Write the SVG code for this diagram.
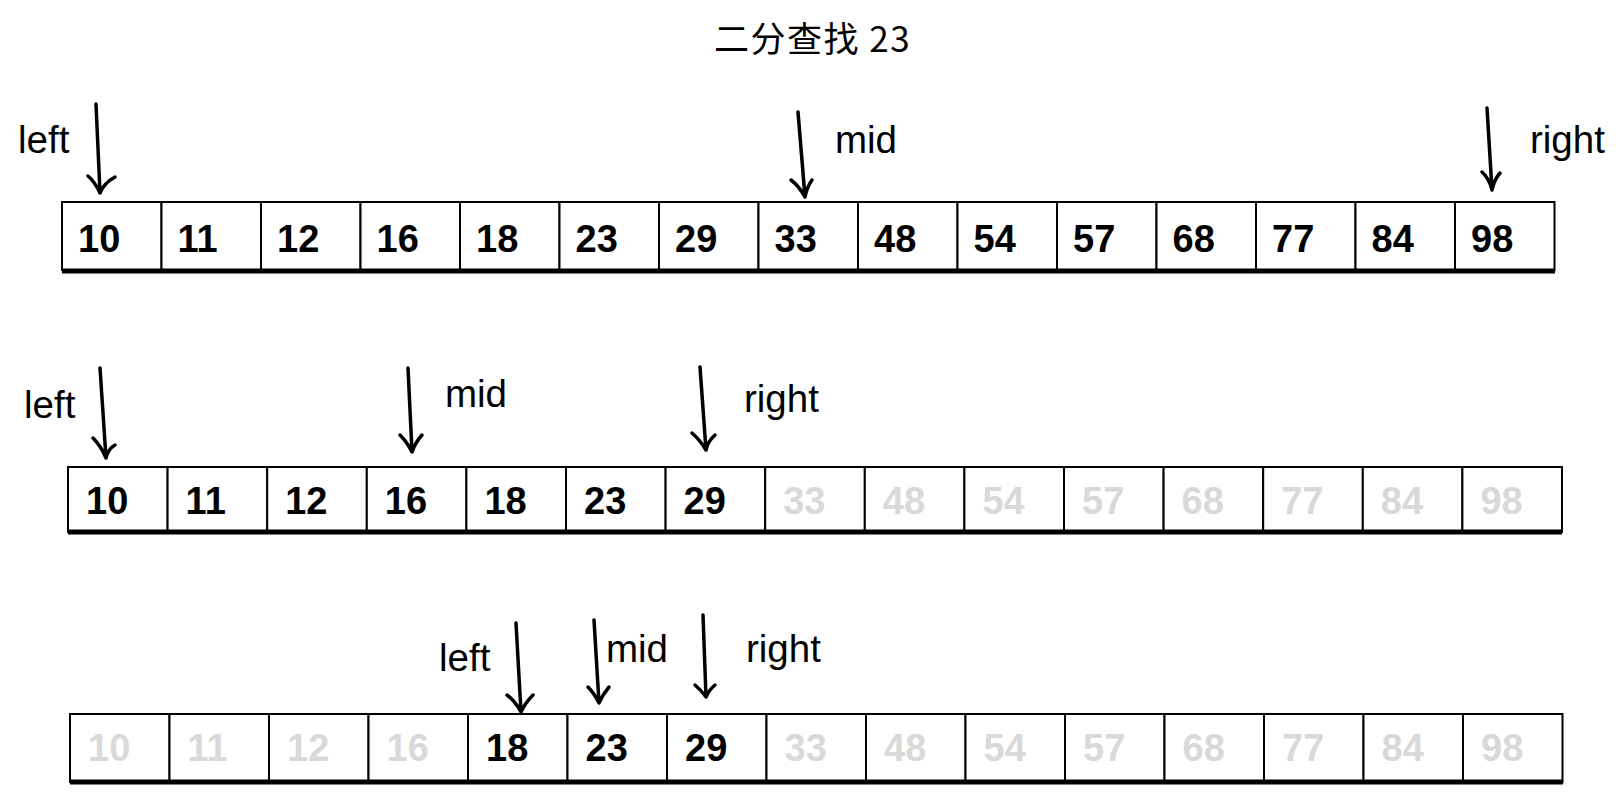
<svg xmlns="http://www.w3.org/2000/svg" width="1620" height="798" viewBox="0 0 1620 798">
<style>
.cell{fill:#fff;stroke:#000;stroke-width:2}
.base{stroke:#000;stroke-width:5}
.num{font-family:"Liberation Sans",Arial,sans-serif;font-weight:bold;font-size:38px;fill:#000}
.dim{fill:#d9d9d9}
.lbl{font-family:"Liberation Sans",Arial,sans-serif;font-size:38.5px;fill:#000}
.ttl{font-family:"Noto Sans CJK SC",sans-serif;font-size:35px;letter-spacing:1.5px;fill:#000}
.arr{fill:none;stroke:#000;stroke-width:3.5;stroke-linecap:round;stroke-linejoin:round}
</style>
<rect width="1620" height="798" fill="#fff"/>
<g id="title"><text class="ttl" x="714" y="52">二分查找 23</text></g>

<!-- Row 1 -->
<g id="row1">
<g id="r1c0"><rect class="cell" x="62" y="202" width="99.5" height="68"/><text class="num" x="78" y="252">10</text></g>
<g id="r1c1"><rect class="cell" x="161.5" y="202" width="99.5" height="68"/><text class="num" x="177.5" y="252">11</text></g>
<g id="r1c2"><rect class="cell" x="261" y="202" width="99.5" height="68"/><text class="num" x="277" y="252">12</text></g>
<g id="r1c3"><rect class="cell" x="360.5" y="202" width="99.5" height="68"/><text class="num" x="376.5" y="252">16</text></g>
<g id="r1c4"><rect class="cell" x="460" y="202" width="99.5" height="68"/><text class="num" x="476" y="252">18</text></g>
<g id="r1c5"><rect class="cell" x="559.5" y="202" width="99.5" height="68"/><text class="num" x="575.5" y="252">23</text></g>
<g id="r1c6"><rect class="cell" x="659" y="202" width="99.5" height="68"/><text class="num" x="675" y="252">29</text></g>
<g id="r1c7"><rect class="cell" x="758.5" y="202" width="99.5" height="68"/><text class="num" x="774.5" y="252">33</text></g>
<g id="r1c8"><rect class="cell" x="858" y="202" width="99.5" height="68"/><text class="num" x="874" y="252">48</text></g>
<g id="r1c9"><rect class="cell" x="957.5" y="202" width="99.5" height="68"/><text class="num" x="973.5" y="252">54</text></g>
<g id="r1c10"><rect class="cell" x="1057" y="202" width="99.5" height="68"/><text class="num" x="1073" y="252">57</text></g>
<g id="r1c11"><rect class="cell" x="1156.5" y="202" width="99.5" height="68"/><text class="num" x="1172.5" y="252">68</text></g>
<g id="r1c12"><rect class="cell" x="1256" y="202" width="99.5" height="68"/><text class="num" x="1272" y="252">77</text></g>
<g id="r1c13"><rect class="cell" x="1355.5" y="202" width="99.5" height="68"/><text class="num" x="1371.5" y="252">84</text></g>
<g id="r1c14"><rect class="cell" x="1455" y="202" width="99.5" height="68"/><text class="num" x="1471" y="252">98</text></g>
<line class="base" x1="62" y1="271" x2="1555" y2="271"/>
</g>

<!-- Row 2 -->
<g id="row2">
<g id="r2c0"><rect class="cell" x="68" y="467" width="99.6" height="65"/><text class="num" x="86" y="514">10</text></g>
<g id="r2c1"><rect class="cell" x="167.6" y="467" width="99.6" height="65"/><text class="num" x="185.6" y="514">11</text></g>
<g id="r2c2"><rect class="cell" x="267.2" y="467" width="99.6" height="65"/><text class="num" x="285.2" y="514">12</text></g>
<g id="r2c3"><rect class="cell" x="366.8" y="467" width="99.6" height="65"/><text class="num" x="384.8" y="514">16</text></g>
<g id="r2c4"><rect class="cell" x="466.4" y="467" width="99.6" height="65"/><text class="num" x="484.4" y="514">18</text></g>
<g id="r2c5"><rect class="cell" x="566" y="467" width="99.6" height="65"/><text class="num" x="584" y="514">23</text></g>
<g id="r2c6"><rect class="cell" x="665.6" y="467" width="99.6" height="65"/><text class="num" x="683.6" y="514">29</text></g>
<g id="r2c7"><rect class="cell" x="765.2" y="467" width="99.6" height="65"/><text class="num dim" x="783.2" y="514">33</text></g>
<g id="r2c8"><rect class="cell" x="864.8" y="467" width="99.6" height="65"/><text class="num dim" x="882.8" y="514">48</text></g>
<g id="r2c9"><rect class="cell" x="964.4" y="467" width="99.6" height="65"/><text class="num dim" x="982.4" y="514">54</text></g>
<g id="r2c10"><rect class="cell" x="1064" y="467" width="99.6" height="65"/><text class="num dim" x="1082" y="514">57</text></g>
<g id="r2c11"><rect class="cell" x="1163.6" y="467" width="99.6" height="65"/><text class="num dim" x="1181.6" y="514">68</text></g>
<g id="r2c12"><rect class="cell" x="1263.2" y="467" width="99.6" height="65"/><text class="num dim" x="1281.2" y="514">77</text></g>
<g id="r2c13"><rect class="cell" x="1362.8" y="467" width="99.6" height="65"/><text class="num dim" x="1380.8" y="514">84</text></g>
<g id="r2c14"><rect class="cell" x="1462.4" y="467" width="99.6" height="65"/><text class="num dim" x="1480.4" y="514">98</text></g>
<line class="base" x1="68" y1="532" x2="1562" y2="532"/>
</g>

<!-- Row 3 -->
<g id="row3">
<g id="r3c0"><rect class="cell" x="70" y="714" width="99.5" height="68"/><text class="num dim" x="88" y="761">10</text></g>
<g id="r3c1"><rect class="cell" x="169.5" y="714" width="99.5" height="68"/><text class="num dim" x="187.5" y="761">11</text></g>
<g id="r3c2"><rect class="cell" x="269" y="714" width="99.5" height="68"/><text class="num dim" x="287" y="761">12</text></g>
<g id="r3c3"><rect class="cell" x="368.5" y="714" width="99.5" height="68"/><text class="num dim" x="386.5" y="761">16</text></g>
<g id="r3c4"><rect class="cell" x="468" y="714" width="99.5" height="68"/><text class="num" x="486" y="761">18</text></g>
<g id="r3c5"><rect class="cell" x="567.5" y="714" width="99.5" height="68"/><text class="num" x="585.5" y="761">23</text></g>
<g id="r3c6"><rect class="cell" x="667" y="714" width="99.5" height="68"/><text class="num" x="685" y="761">29</text></g>
<g id="r3c7"><rect class="cell" x="766.5" y="714" width="99.5" height="68"/><text class="num dim" x="784.5" y="761">33</text></g>
<g id="r3c8"><rect class="cell" x="866" y="714" width="99.5" height="68"/><text class="num dim" x="884" y="761">48</text></g>
<g id="r3c9"><rect class="cell" x="965.5" y="714" width="99.5" height="68"/><text class="num dim" x="983.5" y="761">54</text></g>
<g id="r3c10"><rect class="cell" x="1065" y="714" width="99.5" height="68"/><text class="num dim" x="1083" y="761">57</text></g>
<g id="r3c11"><rect class="cell" x="1164.5" y="714" width="99.5" height="68"/><text class="num dim" x="1182.5" y="761">68</text></g>
<g id="r3c12"><rect class="cell" x="1264" y="714" width="99.5" height="68"/><text class="num dim" x="1282" y="761">77</text></g>
<g id="r3c13"><rect class="cell" x="1363.5" y="714" width="99.5" height="68"/><text class="num dim" x="1381.5" y="761">84</text></g>
<g id="r3c14"><rect class="cell" x="1463" y="714" width="99.5" height="68"/><text class="num dim" x="1481" y="761">98</text></g>
<line class="base" x1="70" y1="782" x2="1563" y2="782"/>
</g>

<!-- Pointer labels -->
<g id="labels">
<text class="lbl" x="18" y="153">left</text>
<text class="lbl" x="835" y="153">mid</text>
<text class="lbl" x="1530" y="153">right</text>
<text class="lbl" x="24" y="418">left</text>
<text class="lbl" x="445" y="407">mid</text>
<text class="lbl" x="744" y="412">right</text>
<text class="lbl" x="439" y="671">left</text>
<text class="lbl" x="606" y="662">mid</text>
<text class="lbl" x="746" y="662">right</text>
</g>

<!-- Connectors (pointer arrows) -->
<g id="connectors">
<path class="arr" d="M96 104 L100 193 M88 176 Q95 182 100 193 Q104 183 115 177"/>
<path class="arr" d="M798 112 L805 197 M791 180 Q799 186 805 197 Q807 187 812 180"/>
<path class="arr" d="M1487 108 L1492 190 M1482 172 Q1489 178 1492 190 Q1494 180 1500 173"/>
<path class="arr" d="M100 368 L106 458 M93 438 Q101 446 106 458 Q108 449 115 445"/>
<path class="arr" d="M408 368 L412 452 M400 435 Q407 442 412 452 Q415 443 422 435"/>
<path class="arr" d="M700 367 L706 450 M692 433 Q700 440 706 450 Q708 441 715 435"/>
<path class="arr" d="M516 623 L521 712 M507 695 Q515 701 521 712 Q525 703 533 695"/>
<path class="arr" d="M594 620 L599 703 M588 687 Q594 693 599 703 Q603 694 609 687"/>
<path class="arr" d="M703 615 L706 697 M695 685 Q701 690 706 697 Q709 690 715 685"/>
</g>
</svg>
